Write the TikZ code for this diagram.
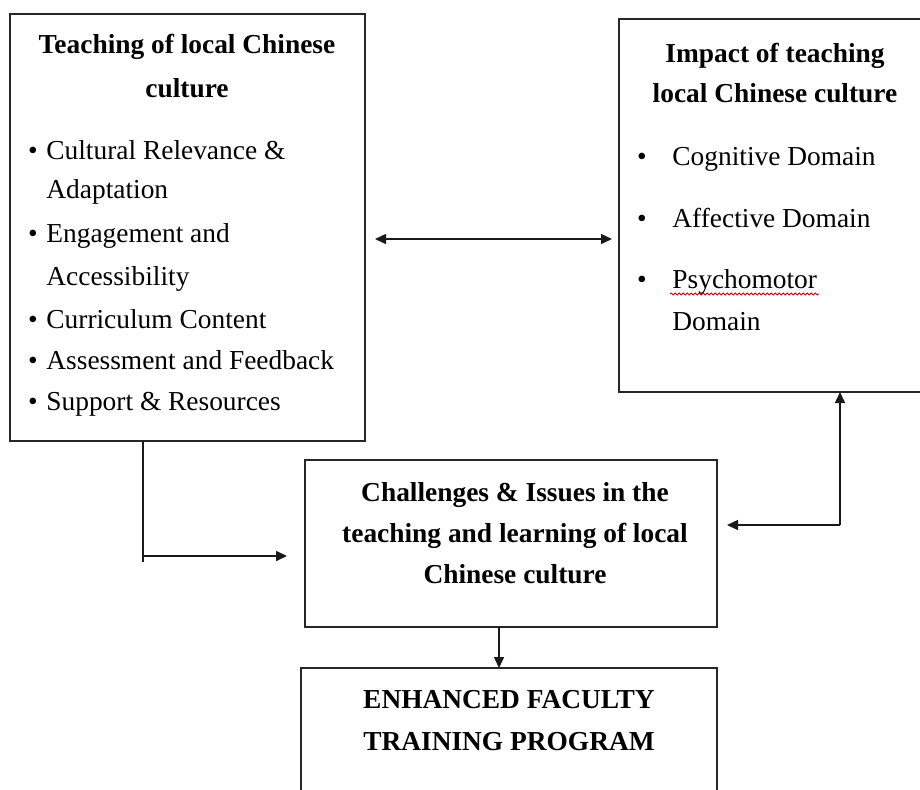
\documentclass[tikz,border=0pt]{standalone}
\usepackage{fontspec}
\setmainfont{Liberation Serif}
\usetikzlibrary{decorations.pathmorphing,arrows.meta}

\tikzset{
  box/.style={draw=black!85, line width=0.75pt, inner sep=0pt, outer sep=0pt},
  txt/.style={inner sep=0pt, anchor=base, font=\fontsize{13.7}{16}\selectfont},
  item/.style={txt, anchor=base west},
  head/.style={txt, font=\fontsize{13.7}{16}\selectfont\bfseries},
  link/.style={line width=0.75pt, draw=black!90, -{Triangle[length=5.5pt,width=5pt]}},
}

\begin{document}
\begin{tikzpicture}[x=0.5pt, y=-0.5pt]
            \useasboundingbox (0,0) rectangle (920,789);
            \clip (0,0) rectangle (920,789);

            \path (375,239) coordinate (P1);
            \path (612,239) coordinate (P2);
            \path (143,562) coordinate (L0);
            \path (143,556) coordinate (L1);
            \path (840,525) coordinate (R0);

            % the four boxes
            \node[box, minimum width=177.5pt, minimum height=213.5pt] (teach) at (187.5,227.5) {};
            \node[box, minimum width=155.5pt, minimum height=186.5pt] (impact) at (774.5,205.5) {};
            \node[box, minimum width=206pt, minimum height=83.5pt] (issues) at (511,543.5) {};
            \node[box, minimum width=208pt, minimum height=66pt] (train) at (509,734) {};

            % teaching box
            \node[head] (teachA) at (187,53) {Teaching of local Chinese};
            \node[head] (teachB) at (187,97) {culture};
            \node[txt] (dotA) at (33,159) {\textbullet};
            \node[item] (relev) at (46,159) {Cultural Relevance \&};
            \node[item] (adapt) at (46,198) {Adaptation};
            \node[txt] (dotB) at (33,242) {\textbullet};
            \node[item] (engage) at (46,242) {Engagement and};
            \node[item] (access) at (46,285) {Accessibility};
            \node[txt] (dotC) at (33,328) {\textbullet};
            \node[item] (content) at (46,328) {Curriculum Content};
            \node[txt] (dotD) at (33,369) {\textbullet};
            \node[item] (assess) at (46,369) {Assessment and Feedback};
            \node[txt] (dotE) at (33,410) {\textbullet};
            \node[item] (support) at (46,410) {Support \& Resources};

            % impact box
            \node[head] (impactA) at (775,62) {Impact of teaching};
            \node[head] (impactB) at (775,102) {local Chinese culture};
            \node[txt] (dotF) at (642,165) {\textbullet};
            \node[item] (cogn) at (672,165) {Cognitive Domain};
            \node[txt] (dotG) at (642,227) {\textbullet};
            \node[item] (affect) at (672,227) {Affective Domain};
            \node[txt] (dotH) at (642,288) {\textbullet};
            \node[item] (psycho) at (672,288) {Psychomotor};
            \node[item] (psychoB) at (672,330) {Domain};
            \draw[red!80!black, line width=0.4pt, decorate,
                  decoration={snake, amplitude=0.5pt, segment length=2pt}] (670,294) -- (819,294);

            % challenges box
            \node[head] (issuesA) at (515,501) {Challenges \& Issues in the};
            \node[head] (issuesB) at (515,542) {teaching and learning of local};
            \node[head] (issuesC) at (515,583) {Chinese culture};

            % training box
            \node[head] (trainA) at (509,708) {ENHANCED FACULTY};
            \node[head] (trainB) at (509,750) {TRAINING PROGRAM};

            % connectors
            \draw[link, {Triangle[length=5.5pt,width=5pt]}-{Triangle[length=5.5pt,width=5pt]}] (P1) -- (P2);
            \draw[line width=0.75pt, black!90] (teach.south -| L0) -- (L0);
            \draw[link, shorten >=9pt] (L1) -- (L1 -| issues.west);
            \draw[link, shorten >=5pt] (R0) -- (R0 -| issues.east);
            \draw[link] (R0) -- (R0 |- impact.south);
            \draw[link] ([xshift=-6pt]issues.south) -- ([xshift=-6pt]issues.south |- train.north);
\end{tikzpicture}
\end{document}
